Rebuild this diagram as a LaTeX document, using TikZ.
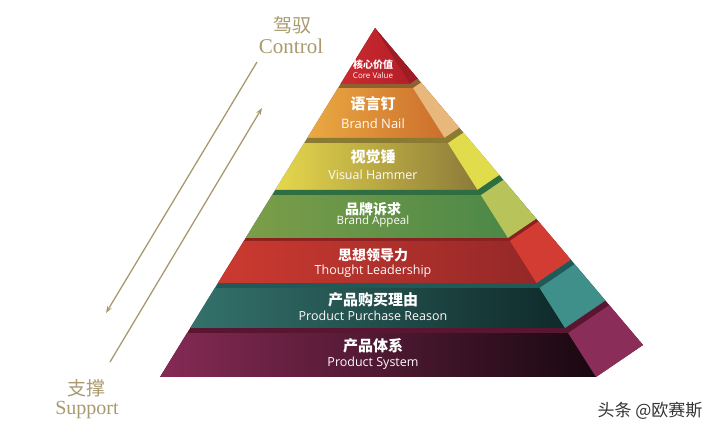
\documentclass[tikz,border=0pt]{standalone}
\usepackage{fontspec}
\newfontfamily\cjk{Noto Sans CJK SC}
\newfontfamily\ensans{Open Sans}
\newfontfamily\enserif{Liberation Serif}
\usepackage{xcolor}
\definecolor{gold}{HTML}{A8996E}
% front left / front right / side / dark top strip
\definecolor{core-l}{HTML}{CC2A30}\definecolor{core-r}{HTML}{B41E28}\definecolor{core-s}{HTML}{9E1C24}\definecolor{core-d}{HTML}{8E1A20}
\definecolor{nail-l}{HTML}{EAAA42}\definecolor{nail-r}{HTML}{CC6E2C}\definecolor{nail-s}{HTML}{E8B77C}\definecolor{nail-d}{HTML}{8E6230}
\definecolor{ham-l}{HTML}{E6D84C}\definecolor{ham-r}{HTML}{8C7A3A}\definecolor{ham-s}{HTML}{E0DC4C}\definecolor{ham-d}{HTML}{8A7A32}
\definecolor{app-l}{HTML}{7C9E48}\definecolor{app-r}{HTML}{4C8848}\definecolor{app-s}{HTML}{B8C45A}\definecolor{app-d}{HTML}{2E6E40}
\definecolor{tho-l}{HTML}{CC3A30}\definecolor{tho-r}{HTML}{942828}\definecolor{tho-s}{HTML}{D23C32}\definecolor{tho-d}{HTML}{8A2020}
\definecolor{rea-l}{HTML}{34726C}\definecolor{rea-r}{HTML}{0F2A2A}\definecolor{rea-s}{HTML}{3F908A}\definecolor{rea-d}{HTML}{1F5A58}
\definecolor{sys-l}{HTML}{862A55}\definecolor{sys-r}{HTML}{180810}\definecolor{sys-s}{HTML}{8A2D58}\definecolor{sys-d}{HTML}{5A1530}
\usepackage{tikz}
\usetikzlibrary{arrows.meta, calc, positioning}

\begin{document}
\begin{tikzpicture}[x=1pt, y=-1pt,
	zhlabel/.style={text=white, font=\cjk\bfseries, inner sep=0pt},
	enlabel/.style={text=white!92!pink, font=\ensans, inner sep=0pt},
	sidelabel/.style={text=gold, inner sep=0pt},
	arrowline/.style={gold, line width=1.3pt, -{Stealth[length=7pt, width=5pt]}}]

\useasboundingbox (0,0) rectangle (720,435);

\newcommand{\pt}[2]{($(apex)!#1!(#2)$)}

\coordinate (apex) at (375,28);
\coordinate (fl) at (160,377); % front left
\coordinate (fr) at (596,377); % front right
\coordinate (br) at (643,345); % back right

\foreach \tp/\ta/\tb/\cn in {0/0/0.160/core, 0.160/0.172/0.315/nail, 0.315/0.330/0.464/ham,
	0.464/0.479/0.602/app, 0.602/0.610/0.731/tho, 0.731/0.745/0.860/rea, 0.860/0.874/1/sys} {
	\fill[\cn-d] \pt{\tp}{fl} -- \pt{\tp}{fr} -- \pt{\tp}{br} -- \pt{\tb}{br} -- \pt{\tb}{fr} -- \pt{\tb}{fl} -- cycle; % top strip
	\shade[left color=\cn-l, right color=\cn-r] \pt{\ta}{fl} -- \pt{\ta}{fr} -- \pt{\tb}{fr} -- \pt{\tb}{fl} -- cycle; % front
	\fill[\cn-s] \pt{\ta}{fr} -- \pt{\ta}{br} -- \pt{\tb}{br} -- \pt{\tb}{fr} -- cycle; % side
}

\foreach \n/\yz/\ye/\zh/\en/\zs/\es in {1/65/76/核心价值/Core Value/10/8, 2/104/124/语言钉/Brand Nail/15/13,
	3/157/175/视觉锤/Visual Hammer/15/12.5, 4/209/222/品牌诉求/Brand Appeal/14/11.5,
	5/255/271/思想领导力/Thought Leadership/14/12.5, 6/300/316/产品购买理由/Product Purchase Reason/15/12.5,
	7/346/363/产品体系/Product System/15/12.5} {
	\node[zhlabel] (zh\n) at (373,\yz) {\fontsize{\zs}{\zs}\selectfont\zh};
	\node[enlabel] (en\n) at (373,\ye) {\fontsize{\es}{\es}\selectfont\en};
}

\node[sidelabel, font=\cjk] (ctrlzh) at (292,25) {\fontsize{19}{19}\selectfont 驾驭};
\node[sidelabel, font=\enserif] (ctrlen) at (291,46) {\fontsize{21}{21}\selectfont Control};
\node[sidelabel, font=\cjk] (supzh) at (86,388) {\fontsize{19}{19}\selectfont 支撑};
\node[sidelabel, font=\enserif] (supen) at (87,410) {\fontsize{20}{20}\selectfont Support};

\coordinate (down top) at (257,62);
\coordinate (down end) at (106,313);
\coordinate (up start) at (110,362);
\coordinate (up end) at (262,108);
\draw[arrowline] (down top) -- (down end);
\draw[arrowline] (up start) -- (up end);

\node[text=black!80, font=\cjk, inner sep=0pt] (mark) at (650,411) {\fontsize{17}{17}\selectfont 头条 @欧赛斯};

\end{tikzpicture}
\end{document}
